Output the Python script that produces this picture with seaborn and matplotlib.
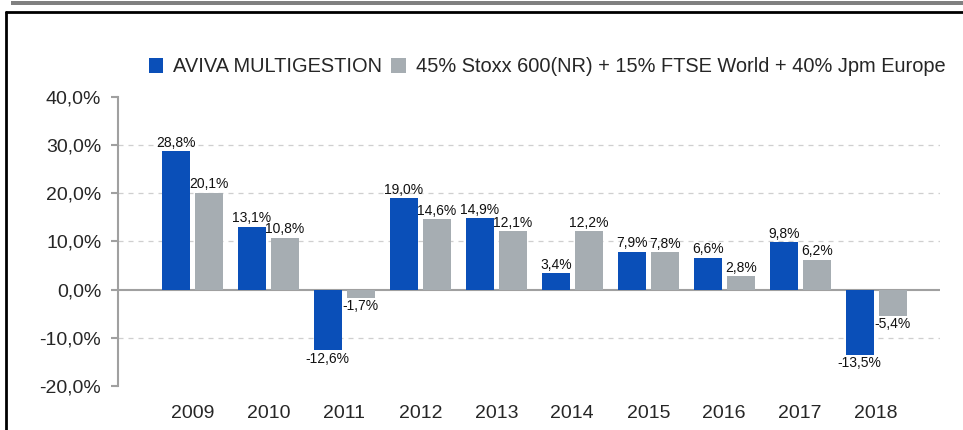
import pandas
import seaborn
import matplotlib.pyplot as pyplot
from matplotlib.patches import Rectangle
from matplotlib.lines import Line2D

years = ["2009", "2010", "2011", "2012", "2013", "2014", "2015", "2016", "2017", "2018"]
fund = [28.8, 13.1, -12.6, 19.0, 14.9, 3.4, 7.9, 6.6, 9.8, -13.5]
bench = [20.1, 10.8, -1.7, 14.6, 12.1, 12.2, 7.8, 2.8, 6.2, -5.4]
series_names = ["AVIVA MULTIGESTION", "45% Stoxx 600(NR) + 15% FTSE World + 40% Jpm Europe"]
y_ticks = [-20, -10, 0, 10, 20, 30, 40]
grid_values = [-10, 10, 20, 30]

df = pandas.DataFrame({
    "year": years * 2,
    "value": fund + bench,
    "series": [series_names[0]] * len(years) + [series_names[1]] * len(years),
})

seaborn.set_theme(style="white")
pyplot.rcParams["font.family"] = ["Liberation Sans", "DejaVu Sans"]

fig = pyplot.figure(figsize=(9.63, 4.30), dpi=100)
ax = fig.add_axes([118 / 963, 1 - 386 / 430, (940 - 118) / 963, (386 - 97) / 430])

for g in grid_values:
    ax.axhline(g, color="#CFCFCF", linestyle=(0, (4, 4)), linewidth=0.9, zorder=0)
ax.axhline(0, color="#A0A0A0", linewidth=1.5, zorder=1)

seaborn.barplot(data=df, x="year", y="value", hue="series", hue_order=series_names,
                palette=["#0A4FB8", "#A6ADB2"], width=0.87, gap=0.15,
                saturation=1, linewidth=0, ax=ax, zorder=2)

for container in ax.containers:
    labels = [f"{v:.1f}%".replace(".", ",") for v in container.datavalues]
    ax.bar_label(container, labels=labels, fontsize=10, padding=1, color="#111111")

ax.set_xlim(-0.98, 9.84)
ax.set_ylim(-20, 40)
ax.set_yticks(y_ticks)
ax.set_yticklabels([f"{t:.1f}%".replace(".", ",") for t in y_ticks], fontsize=14)
ax.set_xlabel("")
ax.set_ylabel("")
ax.tick_params(axis="x", length=0, pad=14, labelsize=14)
ax.tick_params(axis="y", length=5, width=1.5, color="#A0A0A0", pad=7, left=True)

ax.spines["top"].set_visible(False)
ax.spines["right"].set_visible(False)
ax.spines["bottom"].set_visible(False)
ax.spines["left"].set_color("#A0A0A0")
ax.spines["left"].set_linewidth(1.5)

handles, _ = ax.get_legend_handles_labels()
ax.legend(handles, series_names, ncol=2, frameon=False, fontsize=14.4,
          loc="center left", bbox_to_anchor=(149 / 963, 1 - 67 / 430),
          bbox_transform=fig.transFigure, handlelength=0.72, handleheight=0.72,
          handletextpad=0.5, columnspacing=0.45, borderpad=0, borderaxespad=0)

# frame decorations
fig.add_artist(Rectangle((11 / 963, 1 - 5 / 430), 1, 4 / 430, transform=fig.transFigure,
                         color="#808080", linewidth=0))
fig.add_artist(Line2D([6 / 963, 1], [1 - 12 / 430, 1 - 12 / 430], transform=fig.transFigure,
                      color="black", linewidth=2))
fig.add_artist(Line2D([6 / 963, 6 / 963], [0, 1 - 12 / 430], transform=fig.transFigure,
                      color="black", linewidth=2))

fig.savefig("out.png", dpi=100)
